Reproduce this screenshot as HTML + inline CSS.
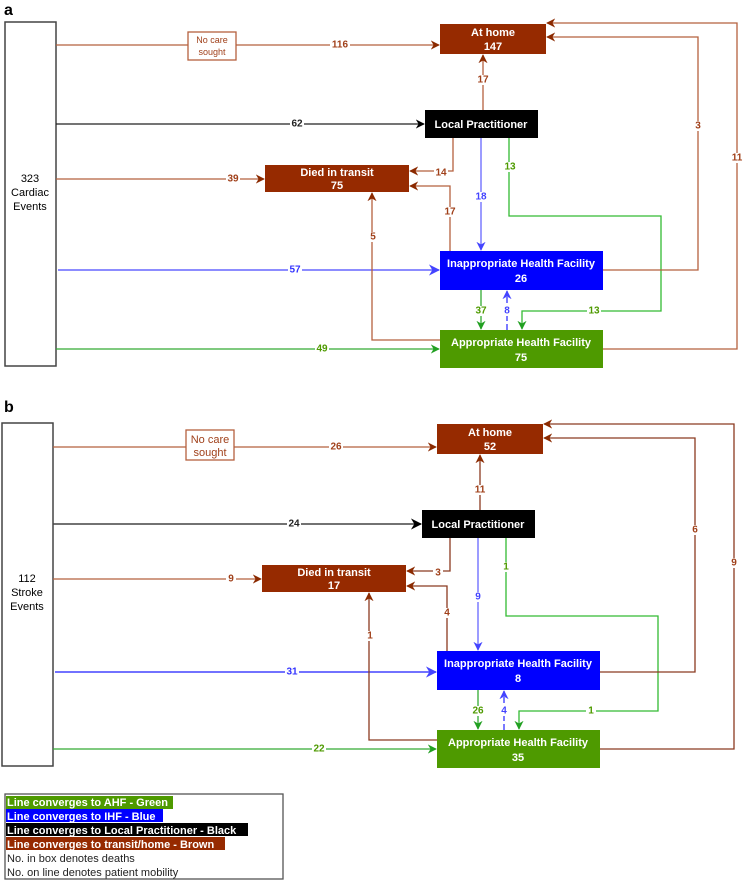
<!DOCTYPE html>
<html><head><meta charset="utf-8"><style>
body{margin:0;background:#fff}
svg{display:block;font-family:"Liberation Sans",Arial,sans-serif}
.bx{font-weight:bold;font-size:11px;fill:#fff;text-anchor:middle}
.lb{font-size:10px;font-weight:bold;text-anchor:middle;dominant-baseline:central}
.lg{font-size:11px;font-weight:bold}
</style></head><body>
<svg width="744" height="882" viewBox="0 0 744 882" xmlns="http://www.w3.org/2000/svg">
<defs>
<marker id="ab" viewBox="0 0 10 10" refX="9" refY="5" markerWidth="7" markerHeight="7" orient="auto"><path d="M0,0L10,5L0,10L3,5z" fill="#8b2a00"/></marker>
<marker id="ak" viewBox="0 0 10 10" refX="9" refY="5" markerWidth="7" markerHeight="7" orient="auto"><path d="M0,0L10,5L0,10L3,5z" fill="#000"/></marker>
<marker id="au" viewBox="0 0 10 10" refX="9" refY="5" markerWidth="7" markerHeight="7" orient="auto"><path d="M0,0L10,5L0,10L3,5z" fill="#4444ff"/></marker>
<marker id="ag" viewBox="0 0 10 10" refX="9" refY="5" markerWidth="7" markerHeight="7" orient="auto"><path d="M0,0L10,5L0,10L3,5z" fill="#22a022"/></marker>
</defs>

<!-- PANEL A -->
<text x="4" y="15" font-size="16" font-weight="bold">a</text>
<g fill="none" stroke-width="1.3">
<rect x="5" y="22" width="51" height="344" stroke="#444" stroke-width="1.5" fill="#fff"/>
<path d="M56,45H188" stroke="#b5603e"/>
<path d="M236,45H439" stroke="#b5603e" marker-end="url(#ab)"/>
<path d="M56,124H424" stroke="#222" marker-end="url(#ak)"/>
<path d="M56,179H264" stroke="#b5603e" marker-end="url(#ab)"/>
<path d="M58,270H439" stroke="#6666ff" stroke-width="1.6" marker-end="url(#au)"/>
<path d="M56,349H439" stroke="#33aa33" marker-end="url(#ag)"/>
<path d="M483,110V55" stroke="#b5603e" marker-end="url(#ab)"/>
<path d="M453,138V171H410" stroke="#b5603e" marker-end="url(#ab)"/>
<path d="M450,251V186H410" stroke="#b5603e" marker-end="url(#ab)"/>
<path d="M440,340H372V193" stroke="#b5603e" marker-end="url(#ab)"/>
<path d="M481,138V250" stroke="#6666ff" marker-end="url(#au)"/>
<path d="M509,138V216H661V311H522V329" stroke="#33bb33" marker-end="url(#ag)"/>
<path d="M481,290V329" stroke="#33aa33" marker-end="url(#ag)"/>
<path d="M507,330V291" stroke="#3333ff" stroke-dasharray="6,3" marker-end="url(#au)"/>
<path d="M603,270H698V37H547" stroke="#b5603e" marker-end="url(#ab)"/>
<path d="M603,349H737V23H547" stroke="#b5603e" marker-end="url(#ab)"/>
</g>
<rect x="188" y="32" width="48" height="28" fill="#fff" stroke="#b5603e" stroke-width="1.3"/>
<text x="212" y="43" font-size="9" fill="#a0401a" text-anchor="middle">No care</text>
<text x="212" y="55" font-size="9" fill="#a0401a" text-anchor="middle">sought</text>
<text x="30" y="182" font-size="11" text-anchor="middle">323</text>
<text x="30" y="196" font-size="11" text-anchor="middle">Cardiac</text>
<text x="30" y="210" font-size="11" text-anchor="middle">Events</text>
<rect x="440" y="24" width="106" height="30" fill="#962a00"/>
<text class="bx" x="493" y="36">At home</text><text class="bx" x="493" y="50">147</text>
<rect x="425" y="110" width="113" height="28" fill="#000"/>
<text class="bx" x="481" y="128">Local Practitioner</text>
<rect x="265" y="165" width="144" height="27" fill="#962a00"/>
<text class="bx" x="337" y="176">Died in transit</text><text class="bx" x="337" y="189">75</text>
<rect x="440" y="251" width="163" height="39" fill="#0000ff"/>
<text class="bx" x="521" y="267">Inappropriate Health Facility</text><text class="bx" x="521" y="282">26</text>
<rect x="440" y="330" width="163" height="38" fill="#4e9a00"/>
<text class="bx" x="521" y="346">Appropriate Health Facility</text><text class="bx" x="521" y="361">75</text>
<g class="lb">
<rect x="330" y="40" width="20" height="10" fill="#fff"/><text x="340" y="45" fill="#a0401a">116</text>
<rect x="290" y="119" width="14" height="10" fill="#fff"/><text x="297" y="124" fill="#222">62</text>
<rect x="226" y="174" width="14" height="10" fill="#fff"/><text x="233" y="179" fill="#a0401a">39</text>
<rect x="288" y="265" width="14" height="10" fill="#fff"/><text x="295" y="270" fill="#3333ff">57</text>
<rect x="315" y="344" width="14" height="10" fill="#fff"/><text x="322" y="349" fill="#4e9a00">49</text>
<rect x="477" y="75" width="12" height="10" fill="#fff"/><text x="483" y="80" fill="#a0401a">17</text>
<rect x="434" y="167" width="14" height="10" fill="#fff"/><text x="441" y="173" fill="#a0401a">14</text>
<rect x="444" y="207" width="12" height="10" fill="#fff"/><text x="450" y="212" fill="#a0401a">17</text>
<rect x="368" y="232" width="10" height="10" fill="#fff"/><text x="373" y="237" fill="#a0401a">5</text>
<rect x="475" y="192" width="12" height="10" fill="#fff"/><text x="481" y="197" fill="#4444ff">18</text>
<rect x="503" y="162" width="12" height="10" fill="#fff"/><text x="510" y="167" fill="#4e9a00">13</text>
<rect x="587" y="306" width="14" height="10" fill="#fff"/><text x="594" y="311" fill="#4e9a00">13</text>
<rect x="475" y="306" width="12" height="10" fill="#fff"/><text x="481" y="311" fill="#4e9a00">37</text>
<rect x="502" y="306" width="10" height="10" fill="#fff"/><text x="507" y="311" fill="#4444ff">8</text>
<rect x="693" y="121" width="10" height="10" fill="#fff"/><text x="698" y="126" fill="#a0401a">3</text>
<rect x="731" y="153" width="12" height="10" fill="#fff"/><text x="737" y="158" fill="#a0401a">11</text>
</g>

<!-- PANEL B -->
<text x="4" y="412" font-size="16" font-weight="bold">b</text>
<g transform="translate(-3,400)">
<g fill="none" stroke-width="1.3">
<rect x="5" y="23" width="51" height="343" stroke="#444" stroke-width="1.5" fill="#fff"/>
<path d="M56,47H189" stroke="#b5603e"/>
<path d="M237,47H439" stroke="#b5603e" marker-end="url(#ab)"/>
<path d="M56,124H424" stroke="#444" stroke-width="1.6" marker-end="url(#ak)"/>
<path d="M56,179H264" stroke="#b5603e" marker-end="url(#ab)"/>
<path d="M58,272H439" stroke="#4444ff" stroke-width="1.6" marker-end="url(#au)"/>
<path d="M56,349H439" stroke="#33aa33" marker-end="url(#ag)"/>
<path d="M483,110V55" stroke="#8b3a20" marker-end="url(#ab)"/>
<path d="M453,138V171H410" stroke="#8b3a20" marker-end="url(#ab)"/>
<path d="M450,251V186H410" stroke="#8b3a20" marker-end="url(#ab)"/>
<path d="M440,340H372V193" stroke="#8b3a20" marker-end="url(#ab)"/>
<path d="M481,138V250" stroke="#6666ff" marker-end="url(#au)"/>
<path d="M509,138V216H661V311H522V329" stroke="#33bb33" marker-end="url(#ag)"/>
<path d="M481,290V329" stroke="#33aa33" marker-end="url(#ag)"/>
<path d="M507,330V291" stroke="#3333ff" stroke-dasharray="6,3" marker-end="url(#au)"/>
<path d="M603,272H698V38H547" stroke="#8b3a20" marker-end="url(#ab)"/>
<path d="M603,349H737V24H547" stroke="#8b3a20" marker-end="url(#ab)"/>
</g>
<rect x="189" y="30" width="48" height="30" fill="#fff" stroke="#b5603e" stroke-width="1.3"/>
<text x="213" y="43" font-size="11" fill="#a0401a" text-anchor="middle">No care</text>
<text x="213" y="56" font-size="11" fill="#a0401a" text-anchor="middle">sought</text>
<text x="30" y="182" font-size="11" text-anchor="middle">112</text>
<text x="30" y="196" font-size="11" text-anchor="middle">Stroke</text>
<text x="30" y="210" font-size="11" text-anchor="middle">Events</text>
<rect x="440" y="24" width="106" height="30" fill="#962a00"/>
<text class="bx" x="493" y="36">At home</text><text class="bx" x="493" y="50">52</text>
<rect x="425" y="110" width="113" height="28" fill="#000"/>
<text class="bx" x="481" y="128">Local Practitioner</text>
<rect x="265" y="165" width="144" height="27" fill="#962a00"/>
<text class="bx" x="337" y="176">Died in transit</text><text class="bx" x="337" y="189">17</text>
<rect x="440" y="251" width="163" height="39" fill="#0000ff"/>
<text class="bx" x="521" y="267">Inappropriate Health Facility</text><text class="bx" x="521" y="282">8</text>
<rect x="440" y="330" width="163" height="38" fill="#4e9a00"/>
<text class="bx" x="521" y="346">Appropriate Health Facility</text><text class="bx" x="521" y="361">35</text>
<g class="lb">
<rect x="332" y="42" width="14" height="10" fill="#fff"/><text x="339" y="47" fill="#a0401a">26</text>
<rect x="290" y="119" width="14" height="10" fill="#fff"/><text x="297" y="124" fill="#222">24</text>
<rect x="229" y="174" width="10" height="10" fill="#fff"/><text x="234" y="179" fill="#a0401a">9</text>
<rect x="288" y="267" width="14" height="10" fill="#fff"/><text x="295" y="272" fill="#3333ff">31</text>
<rect x="315" y="344" width="14" height="10" fill="#fff"/><text x="322" y="349" fill="#4e9a00">22</text>
<rect x="477" y="85" width="12" height="10" fill="#fff"/><text x="483" y="90" fill="#a0401a">11</text>
<rect x="436" y="167" width="10" height="10" fill="#fff"/><text x="441" y="173" fill="#a0401a">3</text>
<rect x="445" y="208" width="10" height="10" fill="#fff"/><text x="450" y="213" fill="#a0401a">4</text>
<rect x="368" y="231" width="10" height="10" fill="#fff"/><text x="373" y="236" fill="#a0401a">1</text>
<rect x="476" y="192" width="10" height="10" fill="#fff"/><text x="481" y="197" fill="#4444ff">9</text>
<rect x="504" y="162" width="10" height="10" fill="#fff"/><text x="509" y="167" fill="#4e9a00">1</text>
<rect x="589" y="306" width="10" height="10" fill="#fff"/><text x="594" y="311" fill="#4e9a00">1</text>
<rect x="475" y="306" width="12" height="10" fill="#fff"/><text x="481" y="311" fill="#4e9a00">26</text>
<rect x="502" y="306" width="10" height="10" fill="#fff"/><text x="507" y="311" fill="#4444ff">4</text>
<rect x="693" y="125" width="10" height="10" fill="#fff"/><text x="698" y="130" fill="#a0401a">6</text>
<rect x="732" y="158" width="10" height="10" fill="#fff"/><text x="737" y="163" fill="#a0401a">9</text>
</g>
</g>

<!-- LEGEND -->
<rect x="5" y="794" width="278" height="85" fill="#fff" stroke="#555" stroke-width="1.3"/>
<rect x="6" y="796" width="167" height="13" fill="#4e9a00"/>
<rect x="6" y="809" width="157" height="13" fill="#0000ff"/>
<rect x="6" y="823" width="242" height="13" fill="#000"/>
<rect x="6" y="837" width="219" height="13" fill="#962a00"/>
<text class="lg" x="7" y="806" fill="#fff">Line converges to AHF - Green</text>
<text class="lg" x="7" y="820" fill="#fff">Line converges  to IHF - Blue</text>
<text class="lg" x="7" y="834" fill="#fff">Line converges  to Local Practitioner - Black</text>
<text class="lg" x="7" y="848" fill="#fff">Line converges  to transit/home - Brown</text>
<text x="7" y="862" font-size="11" fill="#222">No. in box denotes deaths</text>
<text x="7" y="876" font-size="11" fill="#222">No. on line denotes patient mobility</text>
</svg>
</body></html>
